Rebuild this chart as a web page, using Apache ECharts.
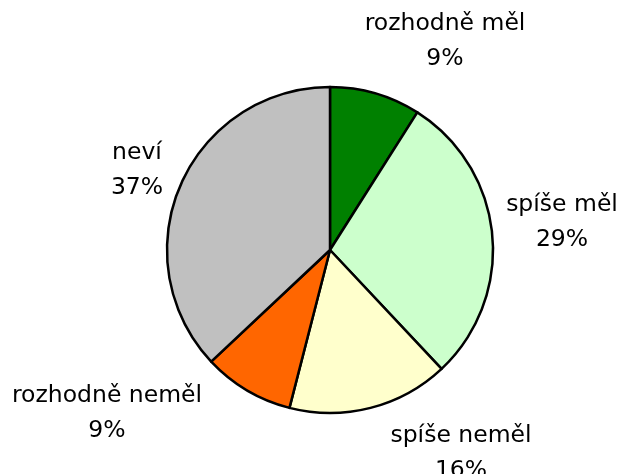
<!DOCTYPE html>
<html><head><meta charset="utf-8">
<script src="https://cdn.jsdelivr.net/npm/echarts@6/dist/echarts.min.js"></script>
<style>html,body{margin:0;padding:0;background:#fff}#c{width:622px;height:474px}</style>
</head><body><div id="c"></div>
<script>
const categories = ['rozhodně měl', 'spíše měl', 'spíše neměl', 'rozhodně neměl', 'neví'];
const values = [9, 29, 16, 9, 37];
const colors = ['#008000', '#CCFFCC', '#FFFFCC', '#FF6600', '#C0C0C0'];
const labelCenters = [[445, 41], [562, 222], [461, 453], [107, 413], [137, 170]];

const chart = echarts.init(document.getElementById('c'));
chart.setOption({
  animation: false,
  backgroundColor: '#fff',
  series: [{
    type: 'pie',
    center: [330, 250],
    radius: 163,
    startAngle: 90,
    clockwise: true,
    avoidLabelOverlap: false,
    data: categories.map((n, i) => ({ name: n, value: values[i], itemStyle: { color: colors[i] } })),
    itemStyle: { borderColor: '#000', borderWidth: 2.5 },
    label: {
      show: true,
      position: 'outside',
      formatter: '{b}\n{d}%',
      fontFamily: 'DejaVu Sans',
      fontSize: 23.5,
      lineHeight: 35,
      color: '#000',
      align: 'center'
    },
    labelLine: { show: false },
    labelLayout: function (p) {
      const c = labelCenters[p.dataIndex];
      return { x: c[0], y: c[1], align: 'center', verticalAlign: 'middle' };
    },
    emphasis: { disabled: true }
  }]
});
</script></body></html>
